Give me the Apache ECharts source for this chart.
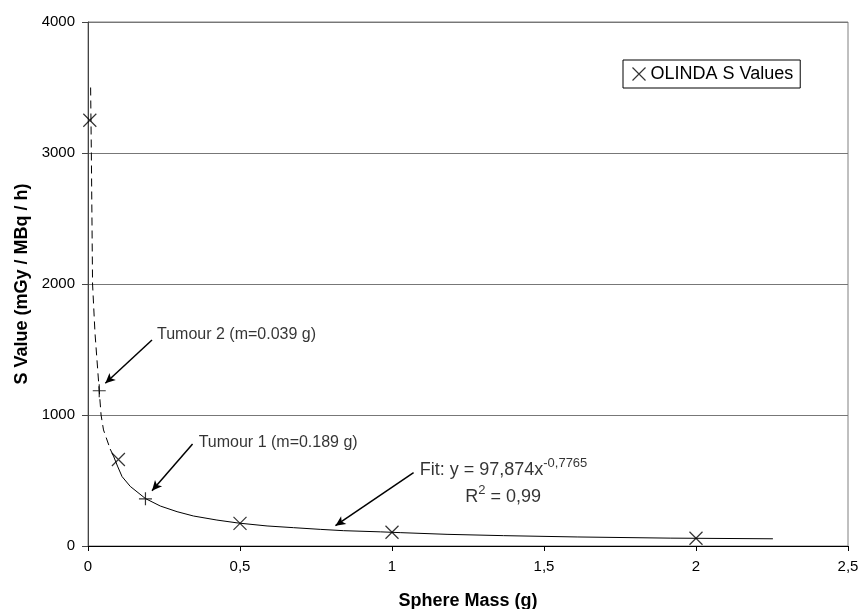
<!DOCTYPE html>
<html>
<head>
<meta charset="utf-8">
<script src="https://cdn.jsdelivr.net/npm/echarts@6/dist/echarts.min.js"></script>
<style>
html,body{margin:0;padding:0;background:#fff;}
#chart{width:860px;height:609px;}
</style>
</head>
<body>
<div id="chart"></div>
<script>
// OLINDA S values (x marks)
const olindaX = [0.006, 0.1, 0.5, 1, 2];
const olindaY = [3250, 660, 173, 105, 59];
// Tumours (+ marks)
const tumourX = [0.037, 0.189];
const tumourY = [1185, 360];
// Fit curve: dashed part and solid part
const dashX = [0.0086, 0.011, 0.015, 0.023, 0.037, 0.043, 0.051, 0.073];
const dashY = [3500, 3000, 2000, 1626, 1185, 1000, 886, 740];
const solidX = [0.073, 0.085, 0.097, 0.112, 0.139, 0.189, 0.238, 0.293, 0.347, 0.424, 0.495, 0.589, 0.676, 0.764, 0.841, 0.962, 1.027, 1.181, 1.367, 1.609, 1.915, 2.253];
const solidY = [740, 680, 610, 530, 455, 362, 305, 262, 229, 198, 175, 153, 140, 127, 117, 108, 102, 89, 79, 69, 60, 55];
// Axis ticks
const xTicks = [0, 0.5, 1, 1.5, 2, 2.5];
const yTicks = [0, 1000, 2000, 3000, 4000];
// Annotations: text anchor points and arrows (from, to) in data units
const annoX = [0.227, 0.364, 1.091, 1.241];
const annoY = [1611, 789, 595, 389];
const annoText = ['{t|Tumour 2 (m=0.039 g)}', '{t|Tumour 1 (m=0.189 g)}', '{b|Fit: y = 97,874x}{s|-0,7765}', '{b|R}{s|2}{b| = 0,99}'];
const arrowFromX = [0.2105, 0.344, 1.071];
const arrowFromY = [1573, 779, 560];
const arrowToX = [0.057, 0.2105, 0.814];
const arrowToY = [1242, 422, 155];

const FONT = 'Liberation Sans, Arial, sans-serif';
const crossPath = 'path://M0,0L10,10M10,0L0,10';
const plusPath = 'path://M5,0L5,10M0,5L10,5';
const zip = (a, b) => a.map((v, i) => [v, b[i]]);

const chart = echarts.init(document.getElementById('chart'), null, {renderer: 'canvas'});
chart.setOption({
  animation: false,
  backgroundColor: '#fff',
  textStyle: {fontFamily: FONT, color: '#000'},
  grid: {left: 88, right: 12, top: 22, bottom: 63, containLabel: false, outerBoundsMode: 'none',
         show: true, borderColor: '#808080', borderWidth: 1, backgroundColor: 'transparent'},
  legend: {
    left: 623, top: 60,
    padding: [5, 7, 5, 7],
    borderColor: '#000', borderWidth: 1,
    itemWidth: 13, itemHeight: 13,
    textStyle: {fontFamily: FONT, fontSize: 18, color: '#000'},
    data: [{name: 'OLINDA S Values', icon: crossPath, itemStyle: {color: 'none', borderColor: '#000', borderWidth: 1.2}}]
  },
  xAxis: {
    type: 'value', min: xTicks[0], max: xTicks[xTicks.length - 1], interval: 0.5,
    name: 'Sphere Mass (g)', nameLocation: 'middle', nameGap: 46,
    nameTextStyle: {fontFamily: FONT, fontSize: 18, fontWeight: 'bold', color: '#000'},
    axisLine: {show: true, onZero: false, lineStyle: {color: '#000', width: 1}},
    axisTick: {show: true, length: 5, lineStyle: {color: '#000'}},
    axisLabel: {fontFamily: FONT, fontSize: 15, color: '#000', margin: 13, formatter: v => String(v).replace('.', ',')},
    splitLine: {show: false}
  },
  yAxis: {
    type: 'value', min: yTicks[0], max: yTicks[yTicks.length - 1], interval: 1000,
    name: 'S Value (mGy / MBq / h)', nameLocation: 'middle', nameGap: 56, nameRotate: 90,
    nameTextStyle: {fontFamily: FONT, fontSize: 18, fontWeight: 'bold', color: '#000'},
    axisLine: {show: true, onZero: false, lineStyle: {color: '#444', width: 1}},
    axisTick: {show: true, length: 6, lineStyle: {color: '#444'}},
    axisLabel: {fontFamily: FONT, fontSize: 15, color: '#000', margin: 13, formatter: v => String(v)},
    splitLine: {show: true, lineStyle: {color: '#777', width: 1}}
  },
  series: [
    {
      name: 'fitDashed', type: 'line', data: zip(dashX, dashY), showSymbol: false, symbol: 'none',
      lineStyle: {color: '#000', width: 1, type: [8, 5]}, silent: true, z: 2
    },
    {
      name: 'fitSolid', type: 'line', data: zip(solidX, solidY), showSymbol: false, symbol: 'none',
      lineStyle: {color: '#000', width: 1}, silent: true, z: 2
    },
    {
      name: 'OLINDA S Values', type: 'scatter', data: zip(olindaX, olindaY),
      symbol: crossPath, symbolSize: 13,
      itemStyle: {color: 'none', borderColor: '#000', borderWidth: 1.2}, z: 3
    },
    {
      name: 'Tumours', type: 'scatter', data: zip(tumourX, tumourY),
      symbol: plusPath, symbolSize: 13,
      itemStyle: {color: 'none', borderColor: '#000', borderWidth: 1.2}, z: 3
    },
    {
      name: 'annotations', type: 'scatter', symbolSize: 0, silent: true, z: 4,
      data: annoX.map((x, i) => ({value: [x, annoY[i]], label: {formatter: annoText[i]}})),
      label: {
        show: true, position: 'right', distance: 0,
        fontFamily: FONT, fontSize: 17, color: '#000',
        rich: {
          t: {fontFamily: FONT, fontSize: 16, color: '#000', lineHeight: 22},
          b: {fontFamily: FONT, fontSize: 18, color: '#000', lineHeight: 22, verticalAlign: 'bottom'},
          s: {fontFamily: FONT, fontSize: 13, color: '#000', lineHeight: 22, verticalAlign: 'top'}
        }
      },
      markLine: {
        silent: true, symbol: ['none', 'arrow'], symbolSize: [7, 10],
        label: {show: false},
        lineStyle: {color: '#000', width: 1.5, type: 'solid'},
        data: arrowFromX.map((x, i) => [{coord: [x, arrowFromY[i]]}, {coord: [arrowToX[i], arrowToY[i]]}])
      }
    }
  ]
});
</script>
</body>
</html>
